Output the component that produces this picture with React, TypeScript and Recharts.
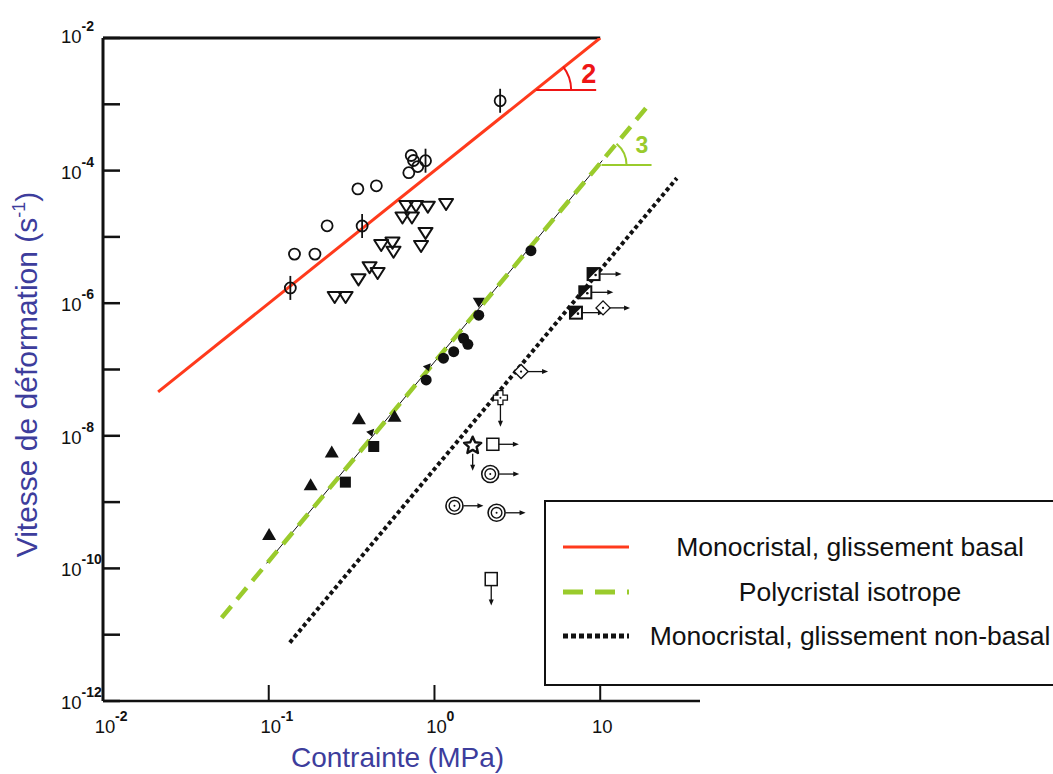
import { ComposedChart, Label, ReferenceLine, Scatter, XAxis, YAxis } from "recharts";

const RED = "#ff3a1c";
const RED_TXT = "#ee1515";
const GREEN = "#9acb2c";
const INK = "#111111";
const BLUE = "#3d3d9c";
const FONT = "'Liberation Sans', Arial, Helvetica, sans-serif";

const X_TICKS = [0.01, 0.1, 1, 10];
const Y_TICKS = [1e-12, 1e-11, 1e-10, 1e-9, 1e-8, 1e-7, 1e-6, 1e-5, 1e-4, 1e-3, 1e-2];

// droites (extrémités)
const basalLine = [
  { x: 0.0215, y: 4.6e-8 },
  { x: 10, y: 1e-2 },
];
const polyLine = [
  { x: 0.052, y: 1.8e-11 },
  { x: 20, y: 1.04e-3 },
];
const polyGuide = [
  { x: 0.097, y: 1.19e-10 },
  { x: 10.3, y: 1.42e-4 },
];
const nonBasalLine = [
  { x: 0.134, y: 7.6e-12 },
  { x: 29, y: 7.7e-5 },
];

// pentes
const slopeBasal = [{ x: 3.94, y: 1.64e-3 }];
const slopePoly = [{ x: 9.77, y: 1.21e-4 }];

// points expérimentaux
const openCircles = [
  { x: 0.143, y: 5.5e-6 },
  { x: 0.19, y: 5.5e-6 },
  { x: 0.225, y: 1.47e-5 },
  { x: 0.345, y: 5.3e-5 },
  { x: 0.446, y: 5.9e-5 },
  { x: 0.7, y: 9.3e-5 },
  { x: 0.724, y: 1.69e-4 },
  { x: 0.747, y: 1.42e-4 },
  { x: 0.793, y: 1.15e-4 },
];
const openCirclesErr = [
  { x: 0.135, y: 1.7e-6 },
  { x: 0.366, y: 1.46e-5 },
  { x: 0.883, y: 1.41e-4 },
  { x: 2.49, y: 1.13e-3 },
];
const openTriangles = [
  { x: 0.25, y: 1.24e-6 },
  { x: 0.291, y: 1.24e-6 },
  { x: 0.348, y: 2.29e-6 },
  { x: 0.406, y: 3.5e-6 },
  { x: 0.454, y: 2.85e-6 },
  { x: 0.477, y: 7.55e-6 },
  { x: 0.558, y: 8.2e-6 },
  { x: 0.566, y: 5.98e-6 },
  { x: 0.83, y: 7.3e-6 },
  { x: 0.883, y: 1.15e-5 },
  { x: 0.641, y: 1.96e-5 },
  { x: 0.731, y: 1.96e-5 },
  { x: 0.676, y: 2.92e-5 },
  { x: 0.774, y: 2.92e-5 },
  { x: 0.912, y: 2.86e-5 },
  { x: 1.175, y: 3.13e-5 },
];
const filledTriangles = [
  { x: 0.1005, y: 3.2e-10 },
  { x: 0.179, y: 1.8e-9 },
  { x: 0.24, y: 5.6e-9 },
  { x: 0.35, y: 1.77e-8 },
  { x: 0.574, y: 1.94e-8 },
];
const smallTriangles = [
  { x: 0.415, y: 1.11e-8 },
  { x: 0.912, y: 1.08e-7 },
];
const filledSquares = [
  { x: 0.29, y: 2.0e-9 },
  { x: 0.43, y: 6.9e-9 },
];
const filledCircles = [
  { x: 0.891, y: 6.95e-8 },
  { x: 1.133, y: 1.48e-7 },
  { x: 1.306, y: 1.86e-7 },
  { x: 1.496, y: 2.96e-7 },
  { x: 1.59, y: 2.4e-7 },
  { x: 1.85, y: 6.6e-7 },
  { x: 3.82, y: 6.2e-6 },
];
const filledTriDown = [{ x: 1.85, y: 1.02e-6 }];
const halfSquares = [
  { x: 9.12, y: 2.75e-6 },
  { x: 8.13, y: 1.46e-6 },
  { x: 7.14, y: 7.2e-7 },
];
const openDiamonds = [
  { x: 10.4, y: 8.5e-7 },
  { x: 3.33, y: 9.3e-8 },
];
const crossDown = [{ x: 2.5, y: 3.76e-8 }];
const starDown = [{ x: 1.7, y: 7.1e-9 }];
const squareRight = [{ x: 2.25, y: 7.45e-9 }];
const squareDown = [{ x: 2.2, y: 6.9e-11 }];
const doubleCircles = [
  { x: 2.17, y: 2.65e-9 },
  { x: 1.32, y: 8.8e-10 },
  { x: 2.37, y: 6.9e-10 },
];

const LEGEND = [
  { name: "Monocristal, glissement basal", color: RED, dash: undefined as string | undefined, w: 3 },
  { name: "Polycristal isotrope", color: GREEN, dash: "20 12", w: 5 },
  { name: "Monocristal, glissement non-basal", color: INK, dash: "5 3", w: 5 },
];

function arrowRight(x: number, y: number, len: number) {
  return (
    <g>
      <line x1={x} y1={y} x2={x + len - 4} y2={y} stroke={INK} strokeWidth={1.3} />
      <polygon points={`${x + len},${y} ${x + len - 6},${y - 2.5} ${x + len - 6},${y + 2.5}`} fill={INK} />
    </g>
  );
}

function arrowDown(x: number, y: number, len: number) {
  return (
    <g>
      <line x1={x} y1={y} x2={x} y2={y + len - 4} stroke={INK} strokeWidth={1.3} />
      <polygon points={`${x},${y + len} ${x - 2.5},${y + len - 6} ${x + 2.5},${y + len - 6}`} fill={INK} />
    </g>
  );
}

const noDot = () => <g />;

const OpenCircle = ({ cx, cy }: any) => (
  <circle cx={cx} cy={cy} r={5.5} fill="none" stroke={INK} strokeWidth={1.8} />
);

const CircleErr = ({ cx, cy }: any) => (
  <g>
    <line x1={cx} x2={cx} y1={cy - 12} y2={cy + 12} stroke={INK} strokeWidth={1.8} />
    <circle cx={cx} cy={cy} r={5.5} fill="none" stroke={INK} strokeWidth={1.8} />
  </g>
);

const OpenTriangle = ({ cx, cy }: any) => (
  <polygon
    points={`${cx - 7},${cy - 5} ${cx + 7},${cy - 5} ${cx},${cy + 6}`}
    fill="none"
    stroke={INK}
    strokeWidth={2}
    strokeLinejoin="round"
  />
);

const FilledTriangle = ({ cx, cy }: any) => (
  <polygon points={`${cx - 7},${cy + 5} ${cx + 7},${cy + 5} ${cx},${cy - 7}`} fill={INK} />
);

const SmallTriangle = ({ cx, cy }: any) => (
  <polygon points={`${cx - 5},${cy - 1} ${cx + 3},${cy - 4} ${cx + 1},${cy + 4}`} fill={INK} />
);

const FilledSquare = ({ cx, cy }: any) => <rect x={cx - 5.5} y={cy - 5.5} width={11} height={11} fill={INK} />;

const FilledCircle = ({ cx, cy }: any) => <circle cx={cx} cy={cy} r={5.5} fill={INK} />;

const FilledTriDown = ({ cx, cy }: any) => (
  <polygon points={`${cx - 6},${cy - 5} ${cx + 6},${cy - 5} ${cx},${cy + 5}`} fill={INK} />
);

const HalfSquare = ({ cx, cy }: any) => (
  <g>
    <rect x={cx - 6} y={cy - 6} width={12} height={12} fill="white" stroke={INK} strokeWidth={2} />
    <polygon points={`${cx - 6},${cy - 6} ${cx + 6},${cy - 6} ${cx - 6},${cy + 6}`} fill={INK} />
    <circle cx={cx + 2} cy={cy + 1} r={1.3} fill={INK} />
    {arrowRight(cx + 6, cy, 22)}
  </g>
);

const OpenDiamond = ({ cx, cy }: any) => (
  <g>
    <polygon
      points={`${cx},${cy - 7} ${cx + 7},${cy} ${cx},${cy + 7} ${cx - 7},${cy}`}
      fill="white"
      stroke={INK}
      strokeWidth={1.4}
    />
    <circle cx={cx} cy={cy} r={1.1} fill={INK} />
    {arrowRight(cx + 7, cy, 20)}
  </g>
);

const CrossDown = ({ cx, cy }: any) => {
  const a = 2.5;
  const b = 7;
  const pts = [
    [-a, -b], [a, -b], [a, -a], [b, -a], [b, a], [a, a],
    [a, b], [-a, b], [-a, a], [-b, a], [-b, -a], [-a, -a],
  ]
    .map(([dx, dy]) => `${cx + dx},${cy + dy}`)
    .join(" ");
  return (
    <g>
      <polygon points={pts} fill="white" stroke={INK} strokeWidth={1.3} />
      <circle cx={cx} cy={cy} r={1} fill={INK} />
      {arrowDown(cx, cy + 7, 22)}
    </g>
  );
};

const StarDown = ({ cx, cy }: any) => {
  const pts: string[] = [];
  for (let i = 0; i < 10; i++) {
    const r = i % 2 === 0 ? 9 : 4.2;
    const ang = -Math.PI / 2 + (i * Math.PI) / 5;
    pts.push(`${cx + r * Math.cos(ang)},${cy + r * Math.sin(ang)}`);
  }
  return (
    <g>
      <polygon points={pts.join(" ")} fill="white" stroke={INK} strokeWidth={2.4} strokeLinejoin="round" />
      {arrowDown(cx, cy + 8, 17)}
    </g>
  );
};

const SquareRight = ({ cx, cy }: any) => (
  <g>
    <rect x={cx - 6} y={cy - 6} width={12} height={12} fill="white" stroke={INK} strokeWidth={1.5} />
    {arrowRight(cx + 6, cy, 20)}
  </g>
);

const SquareDown = ({ cx, cy }: any) => (
  <g>
    <rect x={cx - 6} y={cy - 6.5} width={12} height={13} fill="white" stroke={INK} strokeWidth={1.5} />
    {arrowDown(cx, cy + 6.5, 20)}
  </g>
);

const DoubleCircle = ({ cx, cy }: any) => (
  <g>
    <circle cx={cx} cy={cy} r={8.5} fill="white" stroke={INK} strokeWidth={1.6} />
    <circle cx={cx} cy={cy} r={5.3} fill="none" stroke={INK} strokeWidth={1.4} />
    <circle cx={cx} cy={cy} r={1} fill={INK} />
    {arrowRight(cx + 9, cy, 20)}
  </g>
);

function slopeMark(color: string, txtColor: string, label: string, r: number, deg: number, len: number, fs: number, tx: number, ty: number) {
  return ({ cx, cy }: any) => {
    const a = (deg * Math.PI) / 180;
    return (
      <g>
        <line x1={cx + 3} x2={cx + len} y1={cy} y2={cy} stroke={color} strokeWidth={2} />
        <path
          d={`M ${cx + r} ${cy} A ${r} ${r} 0 0 0 ${cx + r * Math.cos(a)} ${cy - r * Math.sin(a)}`}
          fill="none"
          stroke={color}
          strokeWidth={2}
        />
        <text x={cx + tx} y={cy + ty} fill={txtColor} fontFamily={FONT} fontWeight="bold" fontSize={fs}>
          {label}
        </text>
      </g>
    );
  };
}

const SlopeBasal = slopeMark(RED_TXT, RED_TXT, "2", 38, 38, 63, 27, 48, -7);
const SlopePoly = slopeMark(GREEN, GREEN, "3", 28, 50, 53, 23, 37, -12);

function expOf(v: number) {
  return Math.round(Math.log10(v));
}

function YTick({ x, y, payload }: any) {
  const e = expOf(payload.value);
  return (
    <g>
      <line x1={x} x2={x + 17} y1={y} y2={y} stroke={INK} strokeWidth={2.5} />
      {e % 2 === 0 && (
        <text y={e === -2 ? y + 5 : y + 8} fontFamily={FONT} fill={INK}>
          <tspan x={x - 42} fontSize={18.5}>
            10
          </tspan>
          <tspan fontSize={14} fontWeight="bold" dy={-12}>
            {e}
          </tspan>
        </text>
      )}
    </g>
  );
}

function RightTick({ x, y }: any) {
  return <line x1={x - 12} x2={x} y1={y} y2={y} stroke={INK} strokeWidth={2} />;
}

function XTick({ x, y, payload }: any) {
  const e = expOf(payload.value);
  return (
    <g>
      <line x1={x} x2={x} y1={y} y2={y - 16} stroke={INK} strokeWidth={2} />
      <text x={x + 2} y={y + 32} textAnchor="middle" fontFamily={FONT} fontSize={18.5} fill={INK}>
        10
      </text>
      {e !== 1 && (
        <text x={x + 12} y={y + 20} fontFamily={FONT} fontSize={14} fontWeight="bold" fill={INK}>
          {e}
        </text>
      )}
    </g>
  );
}

function LegendBox() {
  return (
    <div
      style={{
        position: "absolute",
        left: 544,
        top: 500,
        width: 520,
        height: 186,
        boxSizing: "border-box",
        border: `2px solid ${INK}`,
        background: "white",
        fontFamily: FONT,
        fontSize: 26.5,
        color: INK,
      }}
    >
      {LEGEND.map((it, i) => (
        <div
          key={it.name}
          style={{ position: "absolute", left: 0, top: 30 + i * 44.5, height: 30, width: "100%" }}
        >
          <svg width={70} height={30} style={{ position: "absolute", left: 17, top: 0 }}>
            <line
              x1={0}
              x2={66}
              y1={15}
              y2={15}
              stroke={it.color}
              strokeWidth={it.w}
              strokeDasharray={it.dash}
            />
          </svg>
          <div
            style={{
              position: "absolute",
              left: 60,
              width: 488,
              top: 0,
              lineHeight: "30px",
              textAlign: "center",
              whiteSpace: "nowrap",
            }}
          >
            {it.name}
          </div>
        </div>
      ))}
    </div>
  );
}

export default function App() {
  return (
    <div
      style={{
        position: "absolute",
        left: 0,
        top: 0,
        width: 1053,
        height: 774,
        overflow: "hidden",
        background: "white",
      }}
    >
      <ComposedChart width={1053} height={774} margin={{ top: 38, right: 353, bottom: 43, left: 43 }}>
        <XAxis
          type="number"
          dataKey="x"
          scale="log"
          domain={[0.01, 40]}
          allowDataOverflow
          ticks={X_TICKS}
          interval={0}
          height={30}
          tickSize={0}
          tickMargin={0}
          tick={<XTick />}
          axisLine={{ stroke: INK, strokeWidth: 2.5 }}
        >
          <Label
            content={({ viewBox }: any) => (
              <text
                x={viewBox.x + viewBox.width / 2 - 4}
                y={viewBox.y + 66}
                textAnchor="middle"
                fontFamily={FONT}
                fontSize={28}
                fill={BLUE}
              >
                Contrainte (MPa)
              </text>
            )}
          />
        </XAxis>
        <YAxis
          type="number"
          dataKey="y"
          scale="log"
          domain={[1e-12, 1e-2]}
          allowDataOverflow
          ticks={Y_TICKS}
          interval={0}
          width={60}
          tickSize={0}
          tickMargin={0}
          tick={<YTick />}
          axisLine={{ stroke: INK, strokeWidth: 3 }}
        >
          <Label
            content={({ viewBox }: any) => {
              const tx = viewBox.x - 6;
              const ty = viewBox.y + viewBox.height / 2 + 5;
              return (
                <text
                  x={tx}
                  y={ty}
                  transform={`rotate(-90, ${tx}, ${ty})`}
                  textAnchor="middle"
                  fontFamily={FONT}
                  fontSize={30}
                  fill={BLUE}
                >
                  Vitesse de déformation (s
                  <tspan fontSize={18} dy={-12}>
                    -1
                  </tspan>
                  <tspan dy={12}>)</tspan>
                </text>
              );
            }}
          />
        </YAxis>
        <YAxis
          yAxisId="right"
          orientation="right"
          type="number"
          dataKey="y"
          scale="log"
          domain={[1e-12, 1e-2]}
          allowDataOverflow
          ticks={Y_TICKS.slice(1, 10)}
          interval={0}
          width={0}
          tickSize={0}
          tickMargin={0}
          tick={<RightTick />}
          axisLine={false}
        />
        <ReferenceLine
          segment={[
            { x: 0.01, y: 1e-2 },
            { x: 10, y: 1e-2 },
          ]}
          stroke={INK}
          strokeWidth={3}
          ifOverflow="visible"
        />

        <Scatter data={basalLine} shape={noDot} line={{ stroke: RED, strokeWidth: 3 }} lineType="joint" isAnimationActive={false} />
        <Scatter data={polyGuide} shape={noDot} line={{ stroke: INK, strokeWidth: 1 }} lineType="joint" isAnimationActive={false} />
        <Scatter
          data={polyLine}
          shape={noDot}
          line={{ stroke: GREEN, strokeWidth: 4.5, strokeDasharray: "15 9" }}
          lineType="joint"
          isAnimationActive={false}
        />
        <Scatter
          data={nonBasalLine}
          shape={noDot}
          line={{ stroke: INK, strokeWidth: 4, strokeDasharray: "4 3" }}
          lineType="joint"
          isAnimationActive={false}
        />

        <Scatter data={slopeBasal} shape={SlopeBasal} isAnimationActive={false} />
        <Scatter data={slopePoly} shape={SlopePoly} isAnimationActive={false} />

        <Scatter data={openCircles} shape={OpenCircle} isAnimationActive={false} />
        <Scatter data={openCirclesErr} shape={CircleErr} isAnimationActive={false} />
        <Scatter data={openTriangles} shape={OpenTriangle} isAnimationActive={false} />
        <Scatter data={filledTriangles} shape={FilledTriangle} isAnimationActive={false} />
        <Scatter data={smallTriangles} shape={SmallTriangle} isAnimationActive={false} />
        <Scatter data={filledSquares} shape={FilledSquare} isAnimationActive={false} />
        <Scatter data={filledCircles} shape={FilledCircle} isAnimationActive={false} />
        <Scatter data={filledTriDown} shape={FilledTriDown} isAnimationActive={false} />
        <Scatter data={halfSquares} shape={HalfSquare} isAnimationActive={false} />
        <Scatter data={openDiamonds} shape={OpenDiamond} isAnimationActive={false} />
        <Scatter data={crossDown} shape={CrossDown} isAnimationActive={false} />
        <Scatter data={starDown} shape={StarDown} isAnimationActive={false} />
        <Scatter data={squareRight} shape={SquareRight} isAnimationActive={false} />
        <Scatter data={squareDown} shape={SquareDown} isAnimationActive={false} />
        <Scatter data={doubleCircles} shape={DoubleCircle} isAnimationActive={false} />
      </ComposedChart>
      <LegendBox />
    </div>
  );
}
